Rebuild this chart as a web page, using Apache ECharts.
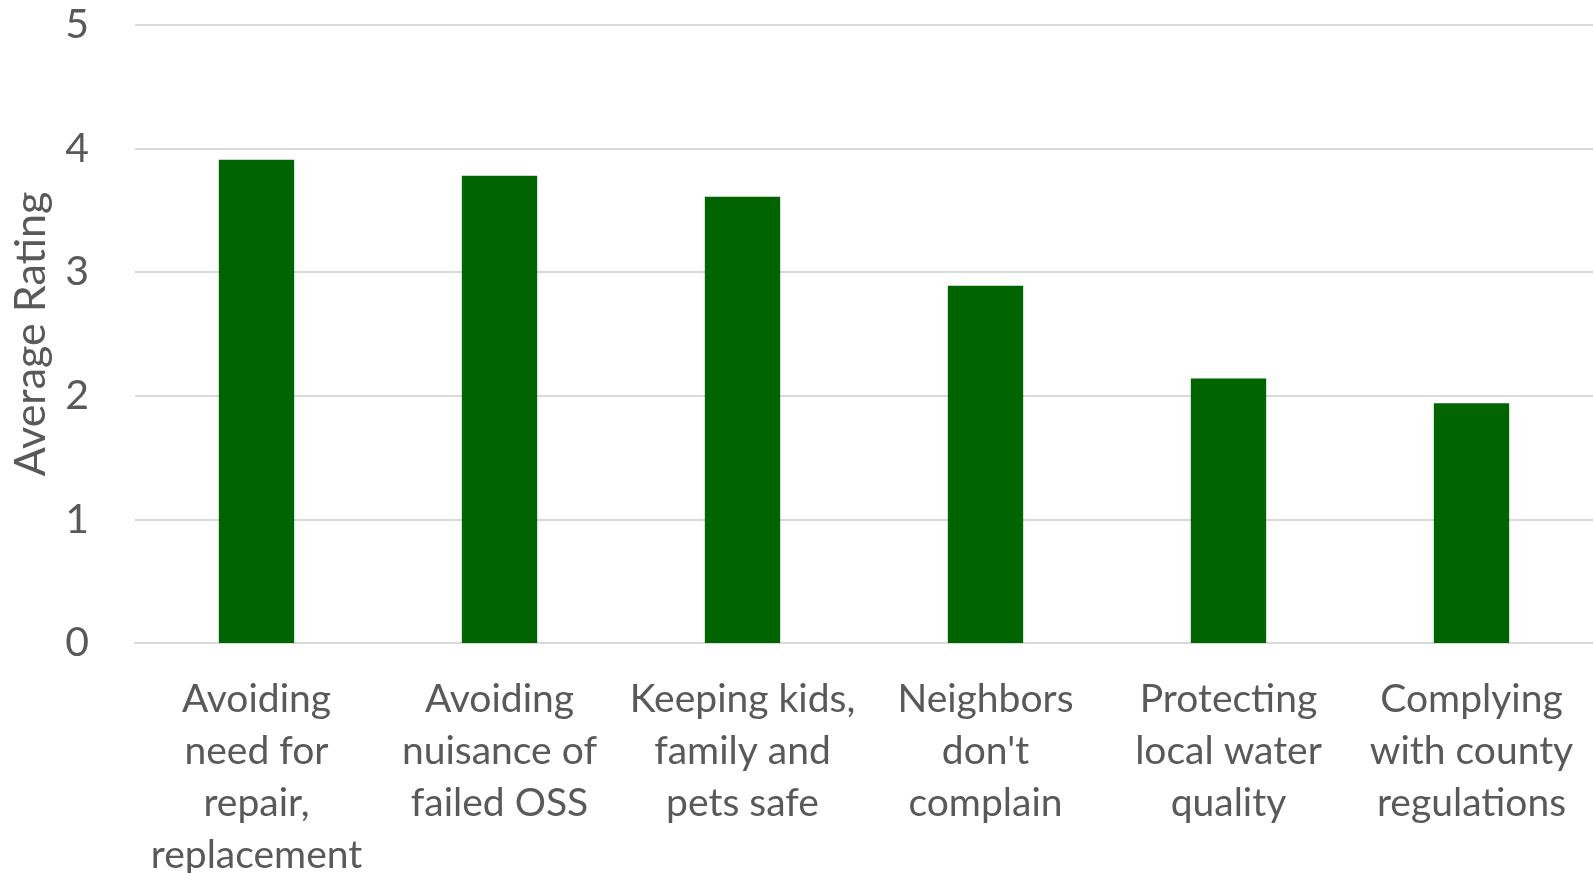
<!DOCTYPE html>
<html>
<head>
<meta charset="utf-8">
<script src="https://cdn.jsdelivr.net/npm/echarts@6/dist/echarts.min.js"></script>
<style>
html,body{margin:0;padding:0;background:#fff;}
#chart{width:1593px;height:873px;}
</style>
</head>
<body>
<div id="chart"></div>
<script>
const categories = [
  "Avoiding\nneed for\nrepair,\nreplacement",
  "Avoiding\nnuisance of\nfailed OSS",
  "Keeping kids,\nfamily and\npets safe",
  "Neighbors\ndon't\ncomplain",
  "Protecting\nlocal water\nquality",
  "Complying\nwith county\nregulations"
];
const ratings = [3.91, 3.78, 3.61, 2.89, 2.14, 1.94];
const yTitle = "Average Rating";

const FONT = "Lato";
const TXT = "#595959";
const chart = echarts.init(document.getElementById('chart'));
chart.setOption({
  backgroundColor: '#ffffff',
  animation: false,
  grid: {left: 135, right: 0, top: 25, bottom: 230, containLabel: false, outerBoundsMode: 'none'},
  xAxis: {
    type: 'category',
    data: categories,
    axisLine: {show: true, lineStyle: {color: '#d9d9d9', width: 2}},
    axisTick: {show: false},
    axisLabel: {
      interval: 0, margin: 30,
      color: TXT, fontFamily: FONT, fontSize: 39, lineHeight: 52
    }
  },
  yAxis: {
    type: 'value',
    min: 0, max: 5, interval: 1,
    name: yTitle,
    nameLocation: 'middle',
    nameRotate: 90,
    nameGap: 82,
    nameTextStyle: {color: TXT, fontFamily: FONT, fontSize: 43},
    axisLine: {show: false},
    axisTick: {show: false},
    splitLine: {lineStyle: {color: '#d9d9d9', width: 2}},
    axisLabel: {margin: 46, color: TXT, fontFamily: FONT, fontSize: 41}
  },
  series: [{
    type: 'bar',
    data: ratings,
    barWidth: '31%',
    itemStyle: {color: '#006400'}
  }]
});
</script>
</body>
</html>
